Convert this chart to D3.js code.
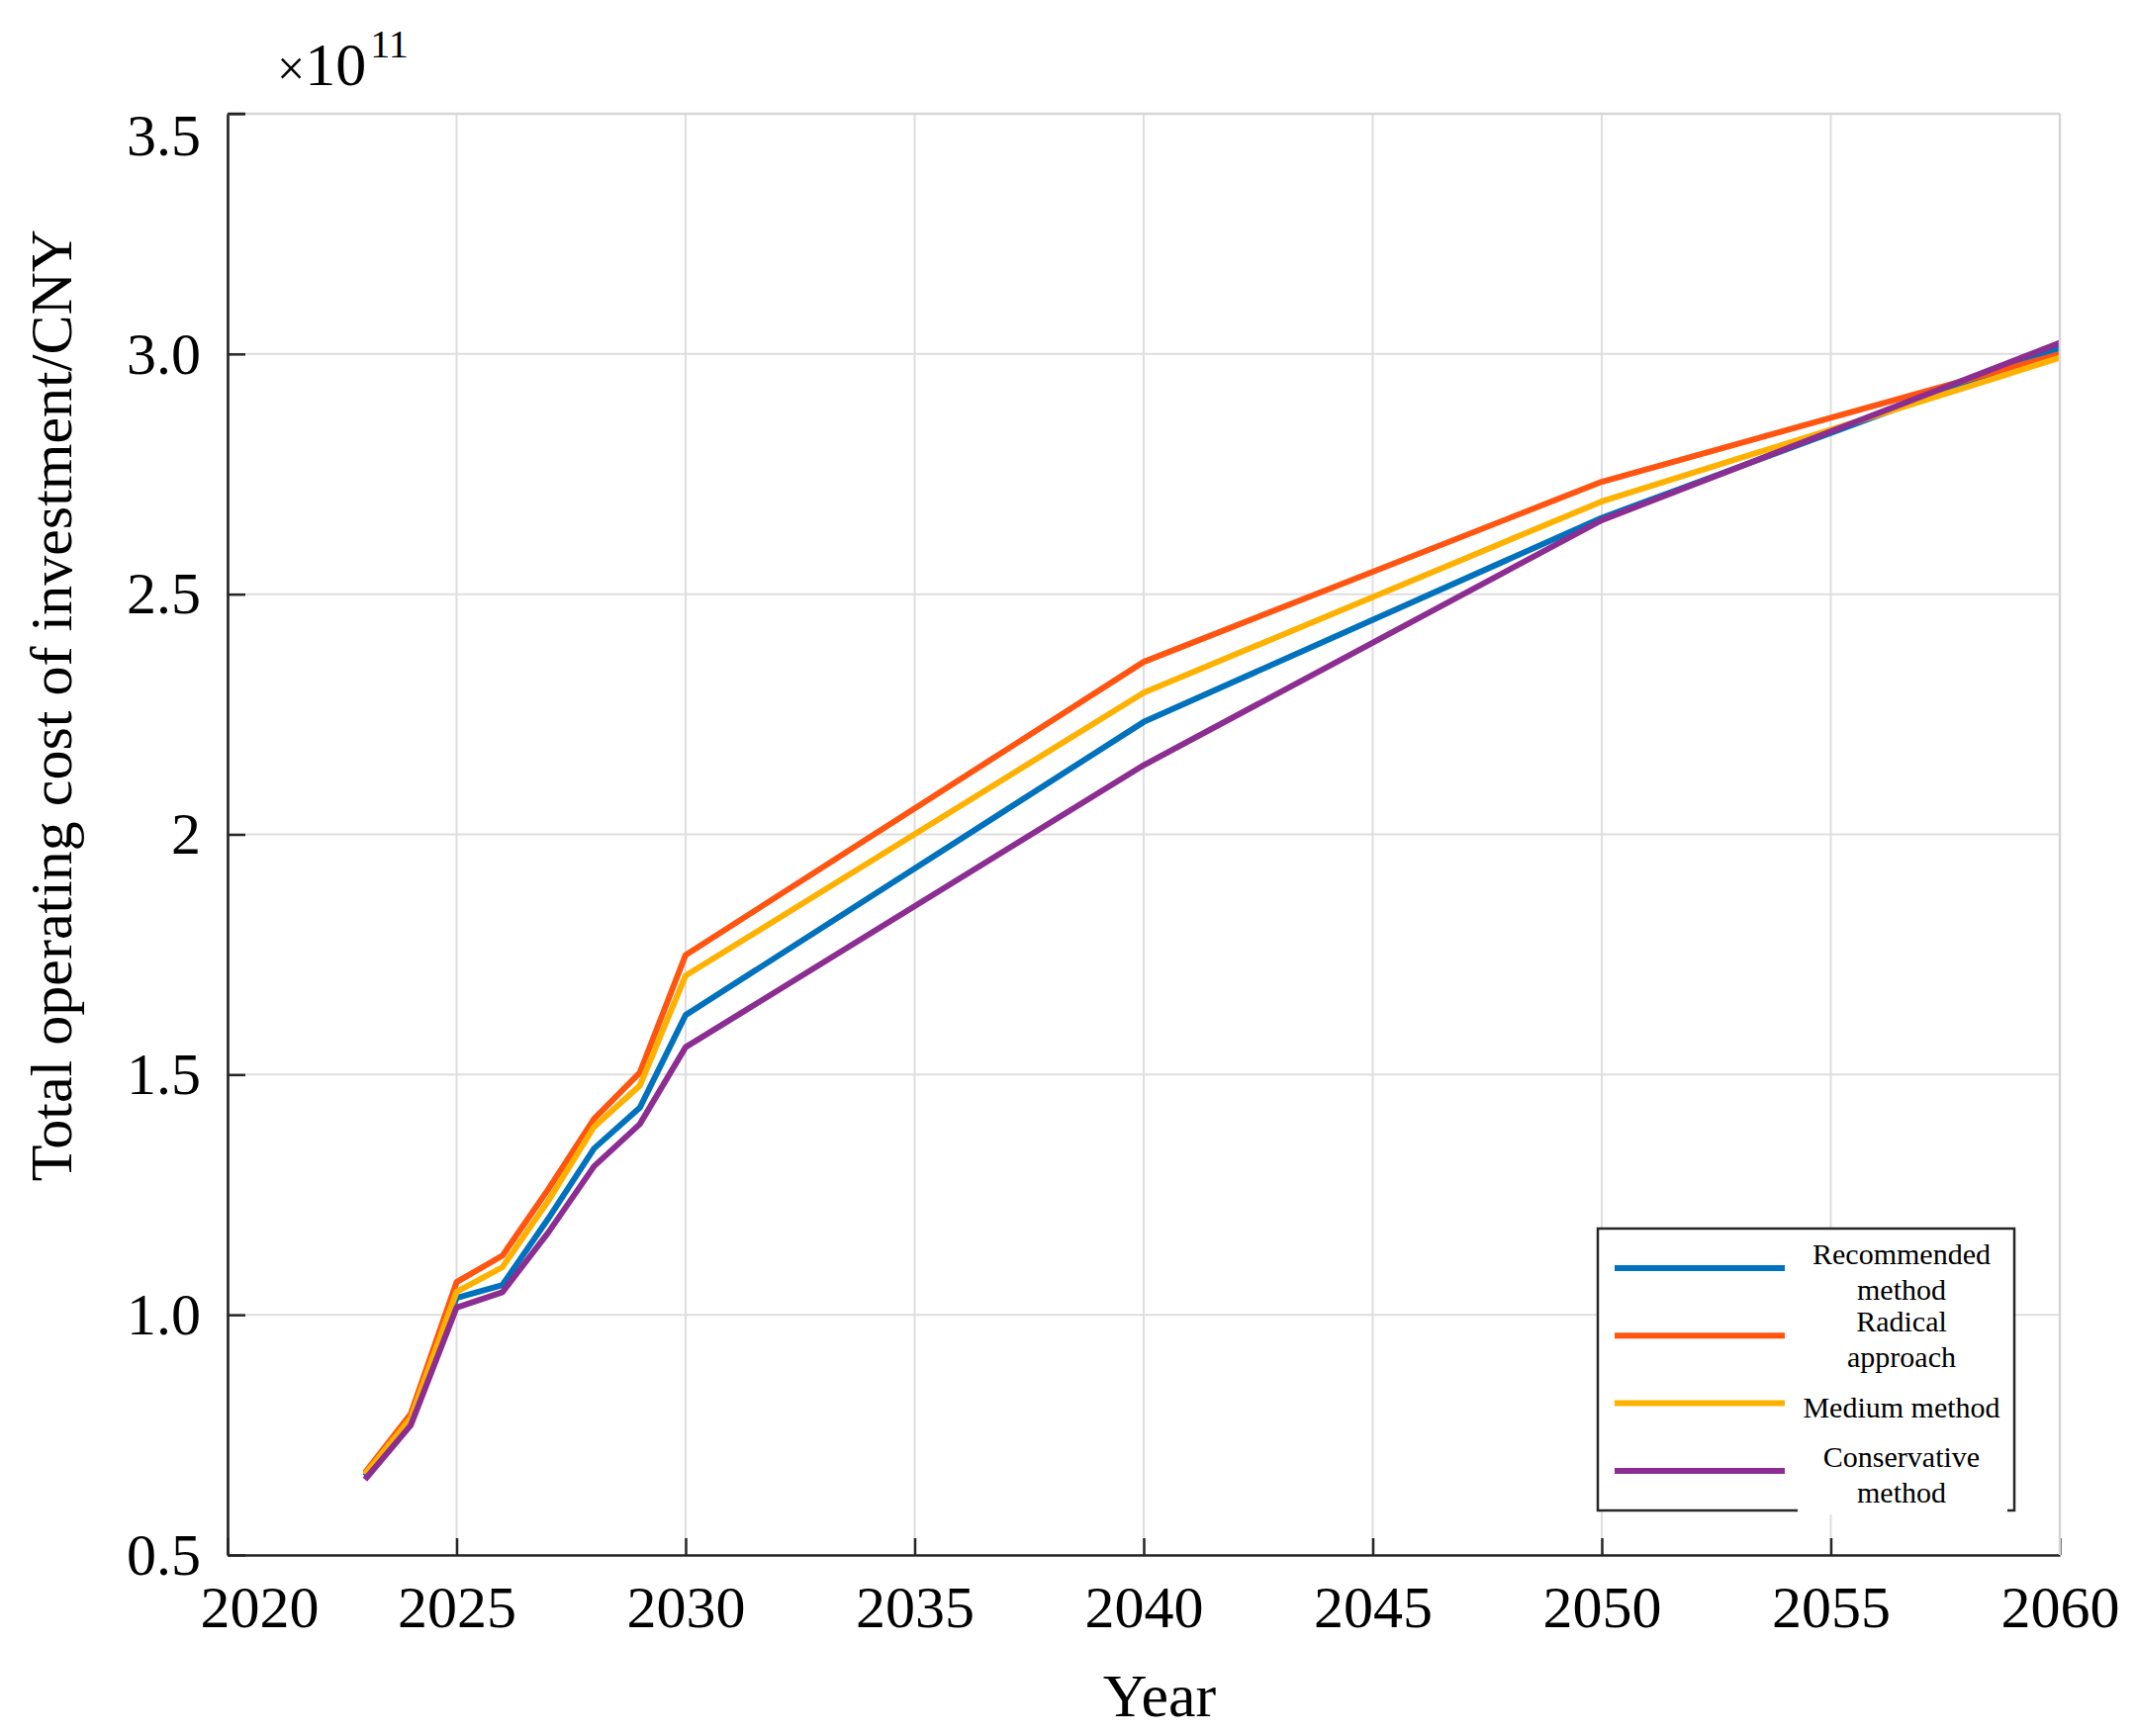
<!DOCTYPE html>
<html>
<head>
<meta charset="utf-8">
<script src="https://d3js.org/d3.v7.min.js"></script>
<style>
  body { margin: 0; background: #fff; }
  text { font-family: "Liberation Serif", "Times New Roman", serif; fill: #000; }
</style>
</head>
<body>
<svg id="chart"></svg>
<script>
var screen = {width: 2160, height: 1755}
var margins = {top: 115, right: 78, bottom: 183, left: 230}

// values in units of 1e11 CNY
var years = [2023, 2024, 2025, 2026, 2027, 2028, 2029, 2030, 2040, 2050, 2060]
var recommended = [0.664, 0.780, 1.035, 1.062, 1.200, 1.346, 1.431, 1.624, 2.234, 2.659, 3.012]
var radical = [0.671, 0.794, 1.068, 1.123, 1.261, 1.408, 1.504, 1.749, 2.359, 2.734, 3.000]
var medium = [0.668, 0.785, 1.048, 1.099, 1.237, 1.391, 1.477, 1.706, 2.295, 2.693, 2.992]
var conservative = [0.657, 0.770, 1.015, 1.047, 1.171, 1.309, 1.397, 1.557, 2.144, 2.654, 3.023]

var seriesNames = [["Recommended", "method"], ["Radical", "approach"], ["Medium method"], ["Conservative", "method"]]
var seriesColors = ["#0072BD", "#FF5510", "#FFB100", "#8C2D92"]

var xTicks = [2020, 2025, 2030, 2035, 2040, 2045, 2050, 2055, 2060]
var yTicks = [0.5, 1.0, 1.5, 2.0, 2.5, 3.0, 3.5]
var yTickLabels = ["0.5", "1.0", "1.5", "2", "2.5", "3.0", "3.5"]

var allSeries = [recommended, radical, medium, conservative]

var svg = d3.select("#chart")
    .attr("width", screen.width)
    .attr("height", screen.height)

svg.append("rect")
    .attr("width", screen.width)
    .attr("height", screen.height)
    .attr("fill", "#fff")

var width = screen.width - margins.left - margins.right
var height = screen.height - margins.top - margins.bottom

var xScale = d3.scaleLinear()
    .domain([2020, 2060])
    .range([0, width])

var yScale = d3.scaleLinear()
    .domain([0.5, 3.5])
    .range([height, 0])

var graph = svg.append("g")
    .attr("transform", "translate(" + margins.left + "," + margins.top + ")")

// grid
graph.append("g")
    .selectAll("line")
    .data(xTicks)
    .enter()
    .append("line")
    .attr("x1", function(d) { return xScale(d) })
    .attr("x2", function(d) { return xScale(d) })
    .attr("y1", 0)
    .attr("y2", height)
    .attr("stroke", "#dedede")
    .attr("stroke-width", 2)

graph.append("g")
    .selectAll("line")
    .data(yTicks)
    .enter()
    .append("line")
    .attr("x1", 0)
    .attr("x2", width)
    .attr("y1", function(d) { return yScale(d) })
    .attr("y2", function(d) { return yScale(d) })
    .attr("stroke", "#dedede")
    .attr("stroke-width", 2)

// lines
var line = d3.line()
    .x(function(d, i) { return xScale(years[i]) })
    .y(function(d) { return yScale(d) })

graph.selectAll(".series")
    .data(allSeries)
    .enter()
    .append("path")
    .attr("class", "series")
    .attr("d", function(s) { return line(s) })
    .attr("fill", "none")
    .attr("stroke", function(s, i) { return seriesColors[i] })
    .attr("stroke-width", 6)
    .attr("stroke-linejoin", "round")

// axes
var xAxis = d3.axisBottom(xScale)
    .tickValues(xTicks)
    .tickFormat(d3.format("d"))
    .tickSizeInner(-17)
    .tickSizeOuter(0)
    .tickPadding(30)

var yAxis = d3.axisLeft(yScale)
    .tickValues(yTicks)
    .tickFormat(function(d, i) { return yTickLabels[i] })
    .tickSizeInner(-18)
    .tickSizeOuter(0)
    .tickPadding(27)

var gx = graph.append("g")
    .attr("transform", "translate(0," + height + ")")
    .call(xAxis)

var gy = graph.append("g")
    .call(yAxis)

graph.selectAll(".domain")
    .attr("stroke", "#262626")
    .attr("stroke-width", 2.7)
graph.selectAll(".tick line")
    .attr("stroke", "#262626")
    .attr("stroke-width", 2.5)
graph.selectAll(".tick text")
    .style("font-family", "Liberation Serif")
    .style("font-size", "60px")
    .attr("fill", "#000")

// first year label sits right of the corner, top y label sits a bit low
gx.selectAll(".tick text").filter(function(d) { return d == 2020 }).attr("dx", 32)
gy.selectAll(".tick text").filter(function(d) { return d == 3.5 }).attr("dy", "0.69em")

// light box on top and right
graph.append("line")
    .attr("x1", 0).attr("x2", width)
    .attr("y1", 0).attr("y2", 0)
    .attr("stroke", "#d6d6d6").attr("stroke-width", 2.5)
graph.append("line")
    .attr("x1", width).attr("x2", width)
    .attr("y1", 0).attr("y2", height)
    .attr("stroke", "#d6d6d6").attr("stroke-width", 2.5)
graph.append("line")
    .attr("x1", 0).attr("x2", 18)
    .attr("y1", 0).attr("y2", 0)
    .attr("stroke", "#262626").attr("stroke-width", 2.5)

// axis titles
svg.append("text")
    .attr("x", 1172)
    .attr("y", 1735)
    .attr("text-anchor", "middle")
    .style("font-size", "62px")
    .text("Year")

svg.append("text")
    .attr("transform", "translate(72,713) rotate(-90)")
    .attr("text-anchor", "middle")
    .style("font-size", "60px")
    .text("Total operating cost of investment/CNY")

var expo = svg.append("text")
    .attr("x", 280)
    .attr("y", 86)
expo.append("tspan")
    .style("font-size", "50px")
    .text("\u00d7")
expo.append("tspan")
    .style("font-size", "62px")
    .text("10")
expo.append("tspan")
    .attr("dy", -28)
    .attr("dx", 4)
    .style("font-size", "40px")
    .text("11")

// legend
var legend = svg.append("g")
    .attr("transform", "translate(1615,1242)")

legend.append("rect")
    .attr("width", 421)
    .attr("height", 285)
    .attr("fill", "#fff")
    .attr("stroke", "#262626")
    .attr("stroke-width", 2.5)

var entry = legend.selectAll(".entry")
    .data(seriesNames)
    .enter()
    .append("g")
    .attr("class", "entry")
    .attr("transform", function(d, i) { return "translate(0," + (40 + i * 68.3) + ")" })

entry.append("line")
    .attr("x1", 17)
    .attr("x2", 189)
    .attr("stroke", function(d, i) { return seriesColors[i] })
    .attr("stroke-width", 6)

entry.append("text")
    .attr("x", 307)
    .attr("text-anchor", "middle")
    .style("font-size", "30px")
    .selectAll("tspan")
    .data(function(d) { return d })
    .enter()
    .append("tspan")
    .attr("x", 307)
    .attr("y", function(t, j, nodes) {
        var n = nodes.length
        return n == 1 ? 14 : (j == 0 ? -4 : 32)
    })
    .text(function(t) { return t })

// white text background clipping the frame at the bottom right
legend.append("rect")
    .attr("x", 202)
    .attr("y", 281)
    .attr("width", 212)
    .attr("height", 8)
    .attr("fill", "#fff")
</script>
</body>
</html>
